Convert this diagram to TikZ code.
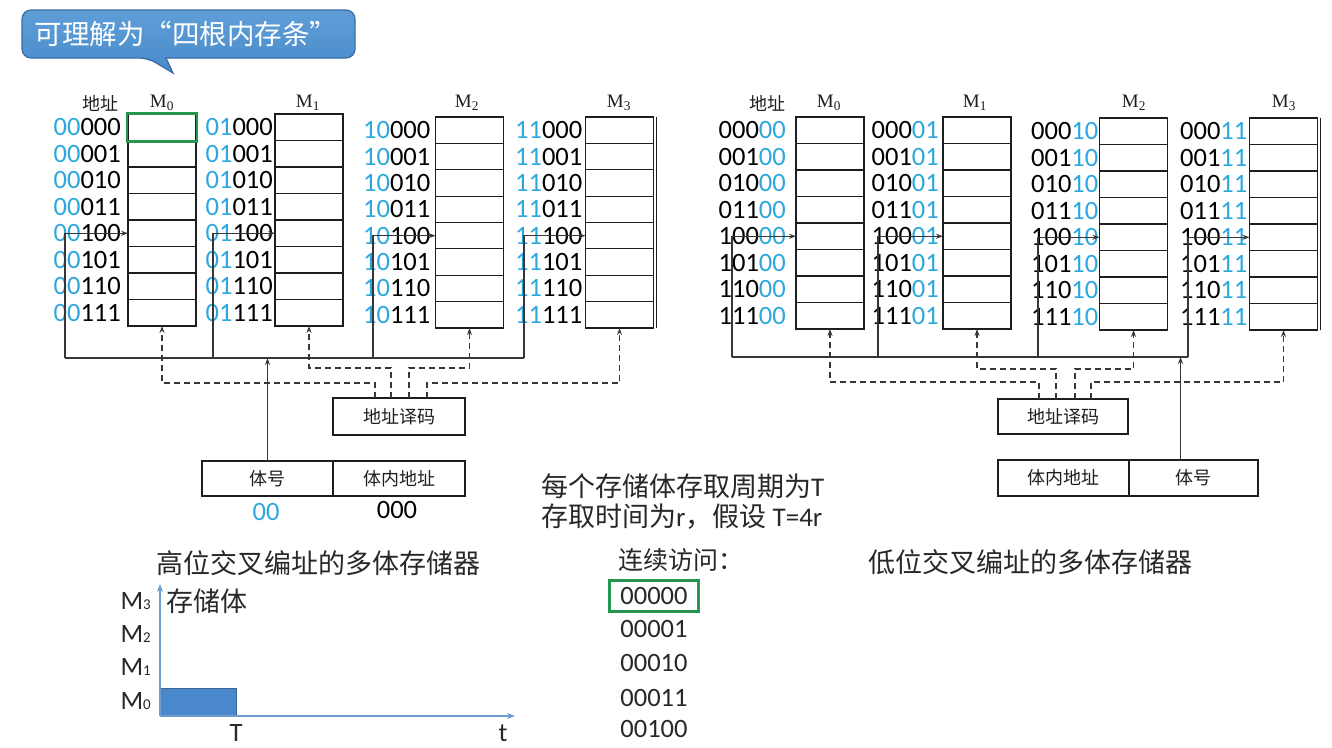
\documentclass[tikz,border=0pt]{standalone}
\usepackage{fontspec}
\setmainfont{Carlito}
\newfontfamily\cjk{Noto Sans CJK SC}
\newfontfamily\timesfont{Liberation Serif}
\usetikzlibrary{arrows.meta}

\definecolor{addrcyan}{RGB}{45,168,222}
\definecolor{inkgray}{RGB}{30,30,30}
\definecolor{wiregray}{RGB}{55,55,55}
\definecolor{notegray}{RGB}{40,40,40}
\definecolor{calloutblue}{RGB}{72,138,202}
\definecolor{callouttop}{RGB}{95,158,215}
\definecolor{calloutedge}{RGB}{58,108,165}
\definecolor{pickgreen}{RGB}{38,150,78}
\definecolor{axisblue}{RGB}{110,155,205}
\definecolor{barblue}{RGB}{74,136,204}

\newcommand{\setfs}[1]{\fontsize{#1}{#1}\selectfont}

% eight stacked cells of one memory bank: name, centre x, top y, bottom y
\newcommand{\membank}[4]{%
  \foreach \r in {1,...,8}{%
    \node[cell, minimum height={(#4-#3)/8}] (#1-\r) at (#2,{#3+(\r-0.5)*(#4-#3)/8}) {};
  }%
}
% addresses with the bank number in the high bits
\newcommand{\hilabels}[3]{%
  \foreach \r/\sfx in {1/000,2/001,3/010,4/011,5/100,6/101,7/110,8/111}{%
    \node[addr, anchor=east] (#1-a\r) at ([xshift=-#3pt]#1-\r.west) {\textcolor{addrcyan}{#2}\sfx};
  }%
}
% addresses with the bank number in the low bits
\newcommand{\lolabels}[3]{%
  \foreach \r/\pfx in {1/000,2/001,3/010,4/011,5/100,6/101,7/110,8/111}{%
    \node[addr, anchor=east] (#1-a\r) at ([xshift=-#3pt]#1-\r.west) {\pfx\textcolor{addrcyan}{#2}};
  }%
}

\begin{document}
\begin{tikzpicture}[x=1pt,y=-1pt,
  cell/.style={draw=inkgray, line width=1.1pt, minimum width=68pt, inner sep=0pt, outer sep=0pt},
  addr/.style={font=\setfs{26.5}, inner sep=0pt, text=black},
  banktitle/.style={font=\timesfont\setfs{19}, inner sep=0pt, text=inkgray},
  cjklabel/.style={font=\cjk\setfs{18}, inner sep=0pt, text=inkgray},
  regbox/.style={draw=inkgray, line width=1.1pt, inner sep=0pt, outer sep=0pt, font=\cjk\setfs{18}, text=inkgray},
  wire/.style={draw=wiregray, line width=1.2pt},
  tip/.style={-{Stealth[length=7pt,width=5pt]}},
  ctrl/.style={draw=wiregray, line width=1.1pt, dash pattern=on 6pt off 4pt, -{Stealth[length=7pt,width=5pt]}},
  note/.style={font=\cjk\setfs{27}, inner sep=0pt, text=notegray, anchor=west},
  seq/.style={font=\setfs{26.5}, inner sep=0pt, text=notegray},
  axis/.style={draw=axisblue, line width=1.4pt, -{Stealth[length=8pt,width=6pt]}},
]
\useasboundingbox (0,0) rectangle (1332,747);
\fill[white] (0,0) rectangle (1332,747);

% ---------- callout ----------
\draw[calloutedge, line width=1.2pt, top color=callouttop, bottom color=calloutblue]
  (166,58) [rounded corners=9pt] -- (355,58) -- (355,10) -- (22,10) -- (22,58) -- (148,58)
  [sharp corners] -- (173,73) -- cycle;
\node[font=\cjk\setfs{27.5}, text=white, inner sep=0pt] (callout) at (186,34) {可理解为“四根内存条”};

% ---------- high-order interleaving ----------
\membank{L0}{162}{114}{326}
\membank{L1}{309}{114}{326}
\membank{L2}{469.5}{117}{328}
\membank{L3}{619.5}{117}{328}
\draw[inkgray, line width=1.1pt] ([xshift=3pt]L3-1.north east) -- ([xshift=3pt]L3-8.south east);
\hilabels{L0}{00}{7}
\hilabels{L1}{01}{2}
\hilabels{L2}{10}{5}
\hilabels{L3}{11}{3}
\node[draw=pickgreen, line width=2.5pt, minimum width=70pt, minimum height=28pt, inner sep=0pt] (L0-pick) at (L0-1) {};

\node[cjklabel] (L-addr) at (100,103) {地址};
\node[banktitle] (L0-t) at (162,103) {M\textsubscript{0}};
\node[banktitle] (L1-t) at (308,103) {M\textsubscript{1}};
\node[banktitle] (L2-t) at (467,103) {M\textsubscript{2}};
\node[banktitle] (L3-t) at (619,103) {M\textsubscript{3}};

\node[regbox, minimum width=132pt, minimum height=37pt] (Ldec) at (399,416.5) {地址译码};
\node[regbox, minimum width=131pt, minimum height=35pt] (Lbank) at (267.5,478.5) {体号};
\node[regbox, minimum width=132pt, minimum height=35pt] (Loffs) at (399,478.5) {体内地址};
\node[addr, text=addrcyan] (Lbank-v) at (266,512) {00};
\node[addr] (Loffs-v) at (397,510) {000};

\coordinate (Lt0) at (65,358);
\coordinate (Lt1) at (213,358);
\coordinate (Lt2) at (373,358);
\coordinate (Lt3) at (524,358);
\draw[wire] (Lt0) -- (Lt3);
\foreach \k in {0,...,3} \draw[wire,tip] (Lt\k) |- (L\k-5.west);
\draw[wire,tip] (Lbank.north) -- (Lbank.north |- Lt0);

\draw[ctrl] ([xshift=-24pt]Ldec.north) -- ++(0,-15) -| (L0-8.south);
\draw[ctrl] ([xshift=-8pt]Ldec.north) -- ++(0,-30) -| (L1-8.south);
\draw[ctrl] ([xshift=10pt]Ldec.north) -- ++(0,-30) -| (L2-8.south);
\draw[ctrl] ([xshift=28pt]Ldec.north) -- ++(0,-15) -| (L3-8.south);

% ---------- low-order interleaving ----------
\membank{R0}{830}{117}{329}
\membank{R1}{977}{117}{329}
\membank{R2}{1133.5}{118}{330}
\membank{R3}{1283.5}{118}{330}
\draw[inkgray, line width=1.1pt] ([xshift=3pt]R3-1.north east) -- ([xshift=3pt]R3-8.south east);
\lolabels{R0}{00}{10}
\lolabels{R1}{01}{4}
\lolabels{R2}{10}{1}
\lolabels{R3}{11}{2}

\node[cjklabel] (R-addr) at (767,103) {地址};
\node[banktitle] (R0-t) at (829,103) {M\textsubscript{0}};
\node[banktitle] (R1-t) at (975,103) {M\textsubscript{1}};
\node[banktitle] (R2-t) at (1134,103) {M\textsubscript{2}};
\node[banktitle] (R3-t) at (1284,103) {M\textsubscript{3}};

\node[regbox, minimum width=130pt, minimum height=35pt] (Rdec) at (1063,416.5) {地址译码};
\node[regbox, minimum width=131pt, minimum height=36pt] (Roffs) at (1063.5,478) {体内地址};
\node[regbox, minimum width=129pt, minimum height=36pt] (Rbank) at (1193.5,478) {体号};

\coordinate (Rt0) at (732,357);
\coordinate (Rt1) at (878,357);
\coordinate (Rt2) at (1038,357);
\coordinate (Rt3) at (1188,357);
\draw[wire] (Rt0) -- (Rt3);
\foreach \k in {0,...,3} \draw[wire,tip] (Rt\k) |- (R\k-5.west);
\coordinate (Rsel) at ([xshift=-13pt]Rbank.north);
\draw[wire,tip] (Rsel) -- (Rsel |- Rt0);

\draw[ctrl] ([xshift=-24pt]Rdec.north) -- ++(0,-17) -| (R0-8.south);
\draw[ctrl] ([xshift=-7pt]Rdec.north) -- ++(0,-30) -| (R1-8.south);
\draw[ctrl] ([xshift=12pt]Rdec.north) -- ++(0,-30) -| (R2-8.south);
\draw[ctrl] ([xshift=28pt]Rdec.north) -- ++(0,-17) -| (R3-8.south);

% ---------- notes ----------
\node[note] (cycle-note) at (541,486) {每个存储体存取周期为{\rmfamily T}};
\node[note] (time-note) at (541,517) {存取时间为{\rmfamily r}，假设 {\rmfamily T=4r}};
\node[note] (hi-title) at (156,563) {高位交叉编址的多体存储器};
\node[note] (lo-title) at (868,562) {低位交叉编址的多体存储器};
\node[note, font=\cjk\setfs{25}] (seq-title) at (618,560) {连续访问：};

\node[seq, draw=pickgreen, line width=2.5pt, inner xsep=11pt, inner ysep=7pt] (seq0) at (654,596) {00000};
\node[seq] (seq1) at (654,629) {00001};
\node[seq] (seq2) at (654,663) {00010};
\node[seq] (seq3) at (654,698) {00011};
\node[seq] (seq4) at (654,729) {00100};

% ---------- timing chart ----------
\coordinate (chO) at (160,716);
\coordinate (chY) at (160,584);
\coordinate (chX) at (515,716);
\fill[barblue] (160,688) rectangle (236,716);
\draw[barblue!75!black, line width=0.8pt] (160,688) rectangle (236,716);
\draw[axis] (chO) -- (chY);
\draw[axis] (chO) -- (chX);
\node[note] (ch-label) at (166,601) {存储体};
\foreach \k/\yy in {3/601,2/634,1/667,0/701}
  \node[seq, anchor=east] (ch-m\k) at (151,\yy) {M{\setfs{15}\k}};
\node[seq] (ch-T) at (236,733) {T};
\node[seq] (ch-t) at (503,733) {t};
\end{tikzpicture}
\end{document}
